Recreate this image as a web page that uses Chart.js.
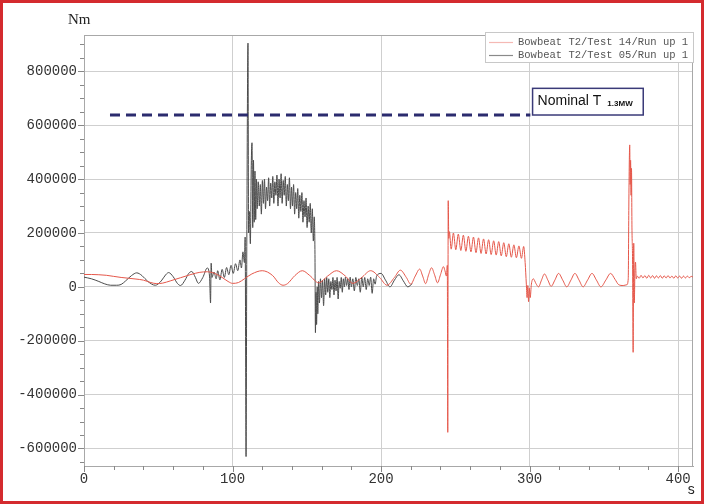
<!DOCTYPE html>
<html>
<head>
<meta charset="utf-8">
<script src="https://cdn.jsdelivr.net/npm/chart.js@4.4.1/dist/chart.umd.min.js"></script>
<style>
  html, body { margin: 0; padding: 0; background: #fff; }
  #wrap { position: relative; width: 704px; height: 504px; }
  #frame { position: absolute; left: 0; top: 0; width: 704px; height: 504px; box-sizing: border-box; border: 3px solid #d42a2e; pointer-events: none; }
</style>
</head>
<body>
<div id="wrap">
  <canvas id="myChart" width="704" height="504"></canvas>
  <div id="frame"></div>
</div>
<script>
// axis ticks
const xTicks = [0, 100, 200, 300, 400];
const yTicks = [-600000, -400000, -200000, 0, 200000, 400000, 600000, 800000];

const labels14 = "Bowbeat T2/Test 14/Run up 1";
const labels05 = "Bowbeat T2/Test 05/Run up 1";
const nominalText = "Nominal T";
const nominalSub = "1.3MW";

// nominal torque line (s, Nm)
const nominalT = [17.5, 300.5];
const nominalV = [638000, 638000];

// Test 14 (red) : time s / torque Nm
const t14 = [0, 5, 10, 15, 20, 25, 30, 35, 40, 45, 49, 53, 58, 65, 72, 78, 83, 88, 93, 97,
  100, 104, 108, 113, 120, 127, 131, 134, 137, 142, 147, 152, 158, 164, 170, 176, 181, 187, 193, 199,
  204, 209, 213, 217, 220, 223, 226, 228, 230, 232, 234, 236, 238, 240, 242, 243, 244, 244.6, 244.9, 245.2,
  245.6, 246.0, 247.2, 248.7, 250.3, 252.0, 253.7, 255.4, 257.1, 258.8, 260.5, 262.2, 263.9, 265.6, 267.3, 269.0,
  270.7, 272.4, 274.1, 275.8, 277.5, 279.2, 280.9, 282.6, 284.3, 286.0, 287.7, 289.4, 291.1, 292.8, 294.5, 296.0,
  297.0, 297.8, 298.3, 298.8, 299.3, 299.8, 300.4, 301.2, 302.5, 304.3, 306.0, 308.0, 310.0, 312.3, 314.5, 317.0,
  319.5, 322.3, 325.0, 327.8, 330.5, 333.3, 336.0, 339.0, 342.0, 345.0, 348.0, 351.3, 354.5, 357.5, 360.0, 363.0,
  365.5, 366.4, 366.8, 367.1, 367.4, 367.7, 368.0, 368.3, 368.6, 368.9, 369.3, 369.7, 370.1, 370.5, 370.9, 371.3,
  371.8, 372.5, 373.8, 375.0, 376.3, 377.6, 378.9, 380.2, 381.5, 382.8, 384.1, 385.4, 386.7, 388.0, 389.3, 390.6,
  391.9, 393.2, 394.5, 395.8, 397.1, 398.4, 399.7, 401.0, 402.3, 403.6, 404.9, 406.2, 407.5, 408.8, 410];
const v14 = [46000, 46000, 45000, 43000, 39000, 35000, 32000, 29000, 25000, 16000, 12000, 14000, 22000, 34000, 46000, 54000, 56000, 50000, 35000, 20000,
  13000, 16000, 30000, 48000, 60000, 42000, 15000, 6000, 12000, 42000, 60000, 42000, 15000, 40000, 60000, 40000, 13000, 35000, 60000, 35000,
  6000, 35000, 62000, 35000, 10000, 40000, 66000, 40000, 12000, 45000, 71000, 45000, 15000, 45000, 75000, 60000, 40000, 80000, -540000, 320000,
  180000, 205000, 140000, 200000, 138000, 196000, 135000, 192000, 132000, 188000, 130000, 185000, 127000, 182000, 124000, 178000,
  122000, 175000, 120000, 171000, 118000, 168000, 115000, 164000, 112000, 160000, 110000, 156000, 108000, 152000, 106000, 150000,
  90000, 10000, -40000, 5000, -55000, -5000, -40000, 10000, 30000, 12000, 0, 25000, 48000, 25000, 2000, 25000,
  50000, 25000, 0, 25000, 50000, 25000, 0, 25000, 50000, 25000, 0, 25000, 50000, 28000, 8000, 5000,
  8000, 30000, 300000, 460000, 527000, 380000, 470000, 340000, 440000, 222000, 100000, -243000, 162000, -60000, 60000, 92000,
  30000, 40000, 32000, 43000, 33000, 42000, 32000, 43000, 33000, 42000, 32000, 41000, 33000, 42000, 32000, 41000,
  33000, 42000, 33000, 40000, 32000, 41000, 33000, 40000, 32000, 40000, 33000, 40000, 34000, 39000, 36000];

// Test 05 (black) : time s / torque Nm
const t05 = [0, 5, 10, 14, 18, 22, 25, 28, 32, 35.5, 39, 43, 48, 52, 55, 57, 60, 63, 65, 68,
  70.5, 72.5, 75, 77, 80, 83, 84.5, 85.2, 85.6, 86.2, 87.5, 89, 90, 91.5, 93, 94.5, 96, 97.5, 99, 100.5,
  102, 103.5, 105, 106, 107, 108, 108.5, 109.1, 109.6, 110.4, 110.8, 111.3, 112.0, 112.6, 113.1, 113.6, 114.1, 114.6, 115.1, 115.6,
  116.1, 116.6, 117.3, 118.0, 118.7, 119.4, 120.1, 120.8, 121.5, 122.2, 122.9, 123.6, 124.3, 125.0, 125.7, 126.4, 127.1, 127.8, 128.5, 129.2,
  129.9, 130.6, 131.3, 132.0, 132.7, 133.4, 134.1, 134.8, 135.5, 136.2, 136.9, 137.6, 138.3, 139.0, 139.7, 140.4, 141.1, 141.8, 142.5, 143.2,
  143.9, 144.6, 145.3, 146.0, 146.7, 147.4, 148.1, 148.8, 149.5, 150.2, 150.9, 151.6, 152.3, 153.0, 153.7, 154.4, 155.0, 155.5, 155.8, 156.2,
  156.6, 157.0, 157.4, 157.9, 158.5, 159.2, 159.9, 160.6, 161.3, 162.0, 162.7, 163.4, 164.1, 164.8, 165.5, 166.2, 166.9, 167.6, 168.3, 169.0,
  169.7, 170.4, 171.1, 171.8, 172.5, 173.2, 173.9, 174.6, 175.3, 176.0, 176.8, 177.6, 178.4, 179.2, 180, 181, 182, 183, 184, 185,
  186, 187, 188, 189, 190, 191, 192, 193, 194, 195, 196, 197, 200, 203, 206, 209, 212, 215, 218, 221];
const v05 = [36000, 30000, 20000, 11000, 6000, 6000, 9000, 22000, 42000, 52000, 42000, 20000, 6000, 22000, 45000, 53000, 38000, 12000, 5000, 25000,
  50000, 57000, 35000, 13000, 35000, 70000, 40000, -60000, 88000, 35000, 55000, 30000, 60000, 26000, 65000, 35000, 72000, 45000, 80000, 50000,
  86000, 60000, 100000, 70000, 130000, 90000, 185000, -630000, 150000, 905000, 200000, 280000, 160000, 450000, 535000, 220000, 470000, 240000, 430000, 250000,
  400000, 290000, 390000, 300000, 380000, 270000, 395000, 310000, 400000, 290000, 370000, 320000, 405000, 300000, 385000, 330000, 410000, 310000, 390000, 340000,
  415000, 300000, 400000, 330000, 420000, 310000, 395000, 340000, 410000, 300000, 380000, 320000, 405000, 290000, 370000, 300000, 380000, 270000, 350000, 290000,
  365000, 255000, 340000, 280000, 350000, 240000, 320000, 260000, 330000, 220000, 300000, 240000, 310000, 200000, 290000, 170000, 260000, 120000, -170000, -20000,
  -140000, 0, -100000, 20000, -60000, 30000, -40000, 25000, -70000, 30000, -30000, 35000, -20000, 30000, -40000, 20000, -10000, 35000, -30000, 25000,
  -15000, 35000, -45000, 20000, -5000, 35000, -20000, 30000, 0, 36000, 5000, 30000, -10000, 36000, 0, 30000, -15000, 35000, 5000, 30000,
  -20000, 36000, 0, 35000, -10000, 30000, 5000, 36000, -24000, 30000, 10000, 40000, 50000, 25000, 0, 25000, 45000, 22000, 0, 12000];

const toXY = (t, v) => t.map((x, i) => ({ x: x, y: v[i] }));

const monoFont = "'Liberation Mono', 'DejaVu Sans Mono', monospace";

// plot frame, minor ticks and unit labels
const framePlugin = {
  id: "framePlugin",
  beforeDatasetsDraw(chart) {
    const { ctx, chartArea: a, scales } = chart;
    ctx.save();
    ctx.strokeStyle = "#a8a8a8";
    ctx.lineWidth = 1;
    ctx.strokeRect(a.left + 0.5, a.top + 0.5, a.right - a.left - 1, a.bottom - a.top);
    ctx.strokeStyle = "#888";
    ctx.beginPath();
    for (let v = -650000; v <= 900000; v += 50000) {
      const y = Math.round(scales.y.getPixelForValue(v)) + 0.5;
      const len = v % 200000 === 0 ? 6 : 4;
      ctx.moveTo(a.left - len, y);
      ctx.lineTo(a.left, y);
    }
    for (let t = 0; t <= 410; t += 20) {
      const x = Math.round(scales.x.getPixelForValue(t)) + 0.5;
      const len = t % 100 === 0 ? 6 : 4;
      ctx.moveTo(x, a.bottom);
      ctx.lineTo(x, a.bottom + len);
    }
    ctx.stroke();
    ctx.fillStyle = "#222";
    ctx.font = "15px 'Liberation Serif', serif";
    ctx.textBaseline = "middle";
    ctx.fillText("Nm", 68, 20);
    ctx.font = "14px " + monoFont;
    ctx.fillText("s", a.right - 6, 490);
    ctx.restore();
  },
  afterDatasetsDraw(chart) {
    const { ctx, scales } = chart;
    ctx.save();
    // nominal box
    const bx1 = scales.x.getPixelForValue(302);
    const bx2 = scales.x.getPixelForValue(376.5);
    const by1 = scales.y.getPixelForValue(737000);
    const by2 = scales.y.getPixelForValue(638000);
    ctx.fillStyle = "#fff";
    ctx.fillRect(bx1, by1, bx2 - bx1, by2 - by1);
    ctx.strokeStyle = "#3a3a78";
    ctx.lineWidth = 1.5;
    ctx.strokeRect(bx1, by1, bx2 - bx1, by2 - by1);
    ctx.fillStyle = "#111";
    ctx.textBaseline = "alphabetic";
    ctx.font = "14px 'Liberation Sans', Arial, sans-serif";
    ctx.fillText(nominalText, bx1 + 5, by1 + 17);
    const w = ctx.measureText(nominalText).width;
    ctx.font = "bold 8px 'Liberation Sans', Arial, sans-serif";
    ctx.fillText(nominalSub, bx1 + 5 + w + 6, by1 + 18);

    // legend
    ctx.fillStyle = "#fff";
    ctx.fillRect(485, 32, 209, 31);
    ctx.strokeStyle = "#c8c8c8";
    ctx.lineWidth = 1;
    ctx.strokeRect(485.5, 32.5, 208, 30);
    const rows = [[labels14, "#f5b9b4", 42], [labels05, "#8a8a8a", 55]];
    ctx.font = "10.5px " + monoFont;
    ctx.textBaseline = "middle";
    rows.forEach((r) => {
      ctx.strokeStyle = r[1];
      ctx.lineWidth = 1.2;
      ctx.beginPath();
      ctx.moveTo(489, r[2] + 0.5);
      ctx.lineTo(513, r[2] + 0.5);
      ctx.stroke();
      ctx.fillStyle = "#555";
      ctx.fillText(r[0], 518, r[2]);
    });
    ctx.restore();
  },
};

var ctx = document.getElementById("myChart").getContext("2d");
var myChart = new Chart(ctx, {
  type: "line",
  data: {
    datasets: [
      {
        label: "Nominal",
        data: toXY(nominalT, nominalV),
        borderColor: "#2b2b6e",
        borderWidth: 3,
        borderDash: [10, 6],
        pointRadius: 0,
        order: 0,
      },
      {
        label: labels14,
        data: toXY(t14, v14),
        borderColor: "#e5574a",
        borderWidth: 1,
        pointRadius: 0,
        cubicInterpolationMode: "monotone",
        order: 1,
      },
      {
        label: labels05,
        data: toXY(t05, v05),
        borderColor: "#4a4a4a",
        borderWidth: 1,
        pointRadius: 0,
        cubicInterpolationMode: "monotone",
        order: 2,
      },
    ],
  },
  options: {
    responsive: false,
    animation: false,
    layout: { padding: { top: 35, right: 11, left: 0, bottom: 0 } },
    plugins: { legend: { display: false }, tooltip: { enabled: false } },
    scales: {
      x: {
        type: "linear",
        min: 0,
        max: 410,
        afterBuildTicks: (s) => { s.ticks = xTicks.map((v) => ({ value: v })); },
        afterFit: (s) => { s.height = 38; },
        grid: { color: "#cfcfcf", drawTicks: false },
        border: { color: "#a8a8a8" },
        ticks: { padding: 5, maxRotation: 0, color: "#333", font: { family: monoFont, size: 14 }, callback: (v) => String(v) },
      },
      y: {
        type: "linear",
        min: -665000,
        max: 935000,
        afterBuildTicks: (s) => { s.ticks = yTicks.map((v) => ({ value: v })); },
        afterFit: (s) => { s.width = 84; },
        grid: { color: "#cfcfcf", drawTicks: false },
        border: { color: "#a8a8a8" },
        ticks: { padding: 7, color: "#333", font: { family: monoFont, size: 14 }, callback: (v) => String(v) },
      },
    },
  },
  plugins: [framePlugin],
});
</script>
</body>
</html>
